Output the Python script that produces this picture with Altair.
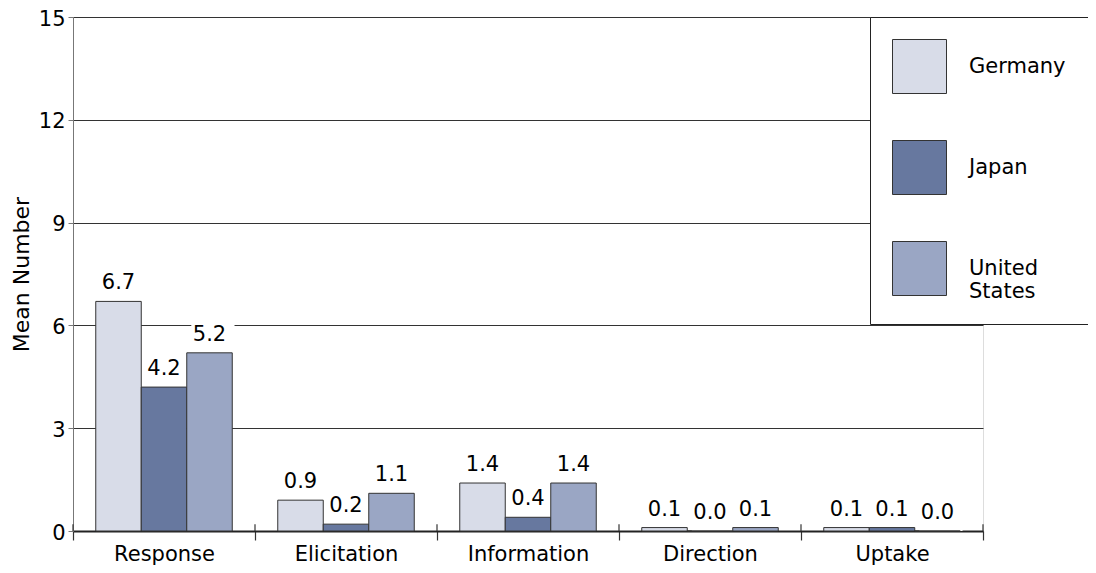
import altair as alt
import pandas as pd

categories = ["Response", "Elicitation", "Information", "Direction", "Uptake"]
countries = ["Germany", "Japan", "United States"]
germany = [6.7, 0.9, 1.4, 0.1, 0.1]
japan = [4.2, 0.2, 0.4, 0.0, 0.1]
united_states = [5.2, 1.1, 1.4, 0.1, 0.0]
colors = ["#d8dce8", "#67789f", "#9aa6c4"]

rows = []
for i, c in enumerate(categories):
    for country, vals in zip(countries, [germany, japan, united_states]):
        rows.append({"category": c, "country": country, "value": vals[i]})
df = pd.DataFrame(rows)
cat_df = pd.DataFrame({"category": categories})

FONT = "DejaVu Sans"
FS = 21

x = alt.X("category:N", sort=categories, title=None,
          scale=alt.Scale(paddingInner=0, paddingOuter=0),
          axis=alt.Axis(labelAngle=0, labelFontSize=FS, labelColor="black",
                        labelFont=FONT, tickBand="extent", bandPosition=0.5,
                        labelAlign="center", tickSize=9,
                        tickColor="#333", tickWidth=1.2, domainColor="#222",
                        domainWidth=1.8, labelPadding=14))
xoff = alt.XOffset("country:N", sort=countries,
                   scale=alt.Scale(paddingInner=0, paddingOuter=0.5))
y = alt.Y("value:Q", title="Mean Number",
          scale=alt.Scale(domain=[0, 15], nice=False),
          axis=alt.Axis(values=[0, 3, 6, 9, 12, 15], grid=True, gridColor="#333",
                        gridWidth=1, domain=True, domainColor="#777",
                        domainWidth=1, ticks=True, tickSize=5, tickColor="#777",
                        labelFontSize=FS, labelOffset=2,
                        labelFont=FONT, labelColor="black", labelPadding=3,
                        titleFont=FONT, titleFontSize=22, titleFontWeight="normal",
                        titleColor="black", titlePadding=5))

base = alt.Chart(df)

bars = base.mark_bar(stroke="#333", strokeWidth=1).encode(
    x=x, xOffset=xoff, y=y,
    color=alt.Color("country:N", sort=countries,
                    scale=alt.Scale(domain=countries, range=colors),
                    legend=alt.Legend(
                        title=None, orient="none", legendX=797, legendY=0,
                        strokeColor="#222", fillColor="white", padding=22,
                        symbolType="square", symbolSize=2916,
                        symbolStrokeColor="#333", symbolStrokeWidth=1,
                        symbolOpacity=1, labelFontSize=FS, labelFont=FONT,
                        labelColor="black", labelOffset=22, rowPadding=42,
                        labelLimit=220,
                        labelExpr="datum.label == 'United States' ? ['United', 'States'] : datum.label")),
)

mask = base.transform_calculate(top="datum.value + 1.0").mark_bar(
    color="white", width=alt.RelativeBandSize(0.95)).encode(
    x=alt.X("category:N", sort=categories), xOffset=xoff,
    y=alt.Y("value:Q"), y2="top:Q")

labels = base.mark_text(baseline="bottom", dy=-8, fontSize=FS, font=FONT,
                        color="black").encode(
    x=alt.X("category:N", sort=categories), xOffset=xoff,
    y=alt.Y("value:Q"), text=alt.Text("value:Q", format=".1f"))

# upper half of the category separator ticks (they cross the axis line)
tick_start = alt.Chart(cat_df).mark_rule(color="#333", strokeWidth=1.2).encode(
    x=alt.X("category:N", sort=categories, bandPosition=0),
    y=alt.datum(0), y2=alt.datum(0.2))
tick_end = alt.Chart(cat_df).transform_filter(
    alt.datum.category == categories[-1]).mark_rule(color="#333", strokeWidth=1.2).encode(
    x=alt.X("category:N", sort=categories, bandPosition=1),
    y=alt.datum(0), y2=alt.datum(0.2))

chart = alt.layer(mask, bars, labels, tick_start, tick_end).properties(
    width=910, height=514,
    autosize=alt.AutoSizeParams(type="none"),
    padding={"left": 65, "top": 9, "right": 105, "bottom": 34},
).configure_view(stroke=None).configure(font=FONT)

chart.save("out.html", embed_options={"renderer": "svg", "actions": False})
